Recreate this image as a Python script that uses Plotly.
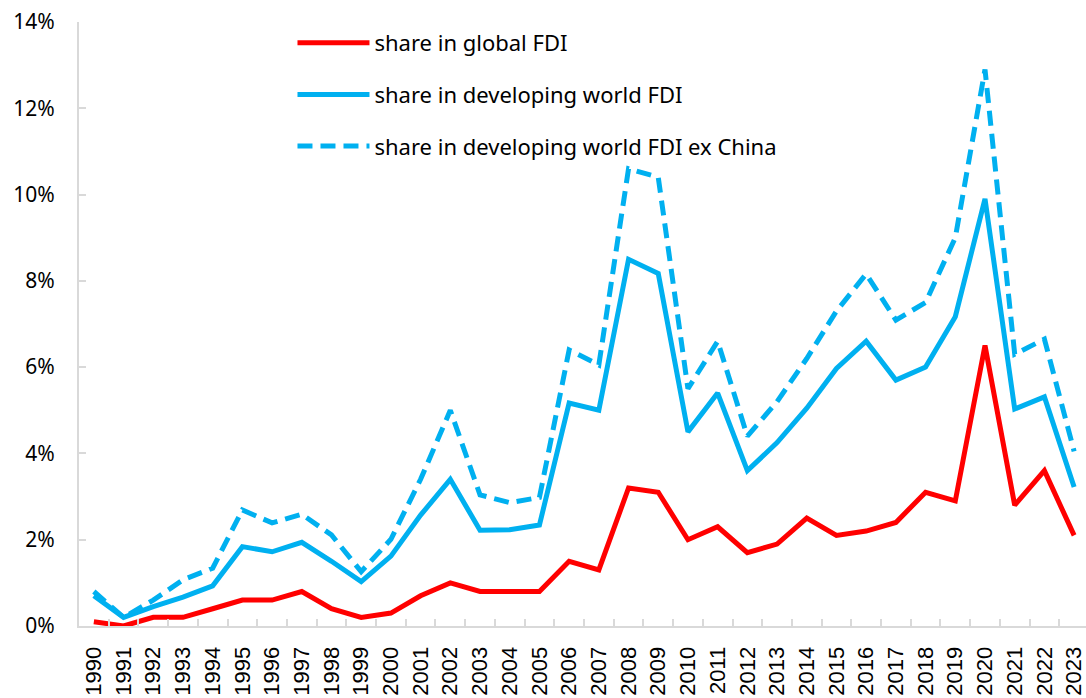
import plotly.graph_objects as go

years = [str(y) for y in range(1990, 2024)]

share_global = [0.1, 0.0, 0.2, 0.2, 0.4, 0.6, 0.6, 0.8, 0.4, 0.2, 0.3, 0.7, 1.0, 0.8, 0.8, 0.8,
                1.5, 1.3, 3.2, 3.1, 2.0, 2.3, 1.7, 1.9, 2.5, 2.1, 2.2, 2.4, 3.1, 2.9, 6.5, 2.8, 3.6, 2.1]

share_developing = [0.7, 0.2, 0.45, 0.67, 0.93, 1.84, 1.72, 1.94, 1.5, 1.03, 1.62, 2.57, 3.4, 2.22, 2.23, 2.34,
                    5.17, 5.0, 8.5, 8.17, 4.5, 5.4, 3.6, 4.25, 5.05, 5.97, 6.6, 5.7, 6.0, 7.17, 9.9, 5.03, 5.31, 3.22]

share_developing_ex_china = [0.8, 0.2, 0.6, 1.07, 1.34, 2.69, 2.39, 2.59, 2.11, 1.26, 2.01, 3.4, 5.0, 3.04, 2.86, 2.98,
                             6.4, 6.05, 10.6, 10.4, 5.5, 6.6, 4.4, 5.2, 6.2, 7.3, 8.16, 7.09, 7.5, 9.0, 12.9, 6.3, 6.65, 4.05]

names = ["share in global FDI", "share in developing world FDI", "share in developing world FDI ex China"]

RED = "#FF0000"
BLUE = "#00B0F0"
GRID = "#D9D9D9"
FONT = "Noto Sans"
XFONT = "Liberation Sans"

fig = go.Figure()
fig.add_trace(go.Scatter(x=years, y=share_global, name=names[0], mode="lines",
                         line=dict(color=RED, width=5), legendgroup="a"))
fig.add_trace(go.Scatter(x=years, y=share_developing, name=names[1], mode="lines",
                         line=dict(color=BLUE, width=5), legendgroup="b"))
fig.add_trace(go.Scatter(x=years, y=share_developing_ex_china, name=names[2], mode="lines",
                         line=dict(color=BLUE, width=5, dash="15px,8px"), legendgroup="c"))

fig.update_layout(
    width=1086, height=698,
    margin=dict(l=79, r=0, t=22, b=72),
    paper_bgcolor="white", plot_bgcolor="white",
    font=dict(family=FONT, size=20, color="black"),
    showlegend=True,
    legend=dict(x=0.212, y=1.0, xanchor="left", yanchor="top",
                bgcolor="rgba(0,0,0,0)", font=dict(size=22, family=FONT, color="black"),
                traceorder="grouped", tracegroupgap=20, itemwidth=72),
)
fig.update_xaxes(type="category", range=[-0.5, 33.4], tickangle=-90,
                 showline=True, linecolor=GRID, linewidth=2,
                 ticks="inside", tickson="boundaries", ticklen=7, tickcolor=GRID, tickwidth=1.5,
                 showgrid=False, zeroline=False, ticklabelstandoff=10,
                 tickfont=dict(size=22, family=XFONT, color="black"))
fig.update_yaxes(range=[0, 14], dtick=2, ticksuffix="%",
                 showline=True, linecolor=GRID, linewidth=2,
                 ticks="inside", ticklen=7, tickcolor=GRID, tickwidth=1.5,
                 showgrid=False, zeroline=False, ticklabelstandoff=18,
                 tickfont=dict(size=21, family=FONT, color="black"))

fig.write_html("out.html")
